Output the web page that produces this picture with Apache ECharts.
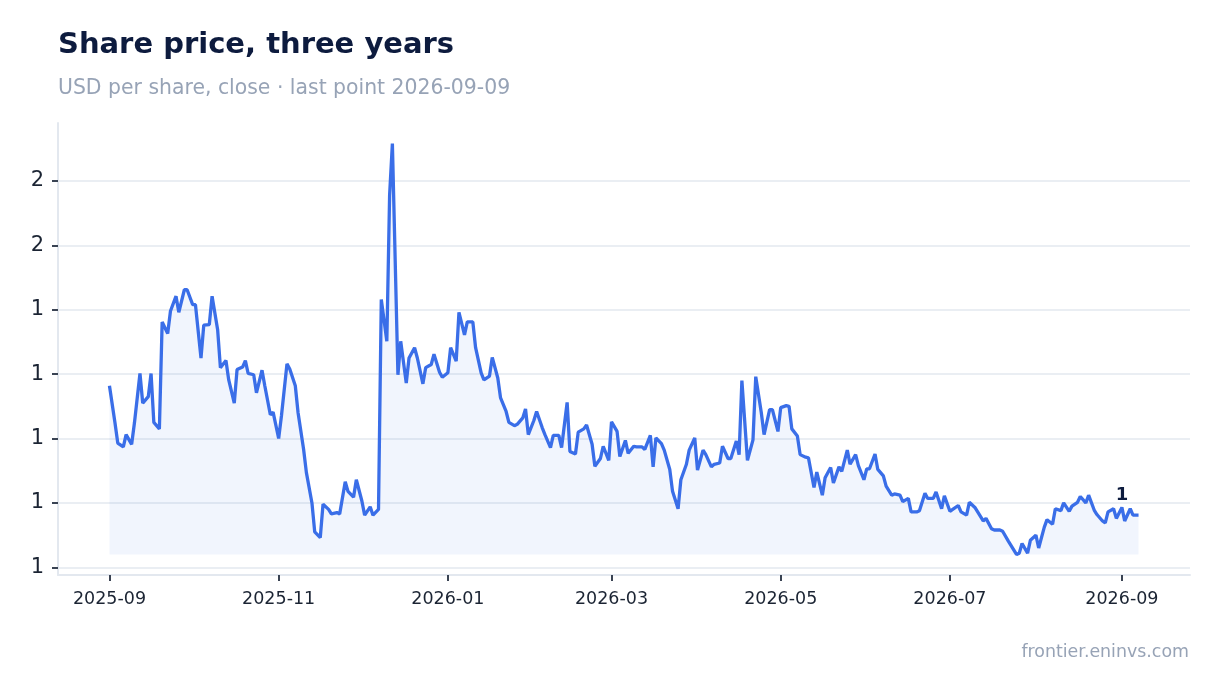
<!DOCTYPE html>
<html>
<head>
<meta charset="utf-8">
<title>Share price, three years</title>
<script src="https://cdn.jsdelivr.net/npm/echarts@6/dist/echarts.min.js"></script>
<style>
  html, body { margin: 0; padding: 0; background: #fff; }
  #chart { width: 1220px; height: 693px; }
</style>
</head>
<body>
<div id="chart"></div>
<script>
// daily closes
var dates = [
    '2025-09-01','2025-09-03','2025-09-04','2025-09-06','2025-09-07','2025-09-09','2025-09-10','2025-09-12','2025-09-13','2025-09-15',
    '2025-09-16','2025-09-17','2025-09-19','2025-09-20','2025-09-22','2025-09-23','2025-09-25','2025-09-26','2025-09-28','2025-09-29',
    '2025-10-01','2025-10-02','2025-10-04','2025-10-05','2025-10-07','2025-10-08','2025-10-10','2025-10-11','2025-10-13','2025-10-14',
    '2025-10-16','2025-10-17','2025-10-19','2025-10-20','2025-10-21','2025-10-23','2025-10-24','2025-10-26','2025-10-27','2025-10-29','2025-10-30',
    '2025-11-01','2025-11-02','2025-11-04','2025-11-05','2025-11-07','2025-11-08','2025-11-10','2025-11-11','2025-11-13','2025-11-14',
    '2025-11-16','2025-11-17','2025-11-19','2025-11-20','2025-11-22','2025-11-23','2025-11-25','2025-11-26','2025-11-28','2025-11-29',
    '2025-12-01','2025-12-02','2025-12-04','2025-12-05','2025-12-07','2025-12-08','2025-12-10','2025-12-11','2025-12-12','2025-12-14',
    '2025-12-15','2025-12-17','2025-12-18','2025-12-20','2025-12-21','2025-12-23','2025-12-24','2025-12-26','2025-12-27','2025-12-29','2025-12-30',
    '2026-01-01','2026-01-02','2026-01-04','2026-01-05','2026-01-07','2026-01-08','2026-01-10','2026-01-11','2026-01-13','2026-01-14',
    '2026-01-16','2026-01-17','2026-01-19','2026-01-20','2026-01-22','2026-01-23','2026-01-25','2026-01-26','2026-01-28','2026-01-29','2026-01-30',
    '2026-02-01','2026-02-02','2026-02-04','2026-02-05','2026-02-07','2026-02-08','2026-02-10','2026-02-11','2026-02-13','2026-02-14',
    '2026-02-16','2026-02-17','2026-02-19','2026-02-20','2026-02-22','2026-02-23','2026-02-25','2026-02-26','2026-02-28',
    '2026-03-01','2026-03-03','2026-03-04','2026-03-06','2026-03-07','2026-03-09','2026-03-10','2026-03-12','2026-03-13','2026-03-15',
    '2026-03-16','2026-03-17','2026-03-19','2026-03-20','2026-03-22','2026-03-23','2026-03-25','2026-03-26','2026-03-28','2026-03-29','2026-03-31',
    '2026-04-01','2026-04-03','2026-04-04','2026-04-06','2026-04-07','2026-04-09','2026-04-10','2026-04-12','2026-04-13','2026-04-15',
    '2026-04-16','2026-04-17','2026-04-19','2026-04-21','2026-04-22','2026-04-24','2026-04-25','2026-04-27','2026-04-28','2026-04-30',
    '2026-05-01','2026-05-03','2026-05-04','2026-05-05','2026-05-07','2026-05-08','2026-05-10','2026-05-11','2026-05-13','2026-05-14',
    '2026-05-16','2026-05-17','2026-05-19','2026-05-20','2026-05-22','2026-05-23','2026-05-25','2026-05-26','2026-05-28','2026-05-29','2026-05-31',
    '2026-06-01','2026-06-02','2026-06-04','2026-06-05','2026-06-07','2026-06-08','2026-06-10','2026-06-11','2026-06-13','2026-06-14',
    '2026-06-16','2026-06-17','2026-06-19','2026-06-20','2026-06-22','2026-06-23','2026-06-25','2026-06-26','2026-06-28','2026-06-29',
    '2026-07-01','2026-07-02','2026-07-04','2026-07-05','2026-07-07','2026-07-08','2026-07-10','2026-07-11','2026-07-13','2026-07-14',
    '2026-07-16','2026-07-17','2026-07-19','2026-07-20','2026-07-22','2026-07-23','2026-07-25','2026-07-26','2026-07-27','2026-07-29','2026-07-30',
    '2026-08-01','2026-08-02','2026-08-04','2026-08-05','2026-08-07','2026-08-08','2026-08-10','2026-08-11','2026-08-13','2026-08-14',
    '2026-08-16','2026-08-17','2026-08-19','2026-08-20','2026-08-22','2026-08-23','2026-08-25','2026-08-26','2026-08-27','2026-08-29','2026-08-30',
    '2026-09-01','2026-09-02','2026-09-04','2026-09-05','2026-09-07'
];

var prices = [
    1.282,1.224,1.193,1.187,1.206,1.191,1.224,1.301,1.255,1.265,
    1.301,1.225,1.215,1.381,1.363,1.398,1.421,1.396,1.431,1.431,
    1.408,1.408,1.325,1.376,1.377,1.421,1.369,1.310,1.321,1.291,
    1.255,1.307,1.311,1.321,1.301,1.299,1.271,1.306,1.282,1.237,1.241,
    1.200,1.235,1.316,1.308,1.282,1.240,1.183,1.147,1.100,1.055,
    1.046,1.098,1.090,1.083,1.085,1.083,1.133,1.118,1.109,1.136,
    1.103,1.081,1.094,1.081,1.090,1.416,1.351,1.578,1.658,1.299,
    1.351,1.286,1.325,1.341,1.325,1.285,1.310,1.315,1.331,1.303,1.295,
    1.302,1.341,1.320,1.396,1.361,1.381,1.381,1.341,1.302,1.291,
    1.297,1.326,1.294,1.263,1.242,1.225,1.220,1.222,1.232,1.246,1.206,
    1.228,1.242,1.217,1.206,1.186,1.205,1.205,1.186,1.256,1.180,
    1.176,1.210,1.215,1.221,1.191,1.157,1.169,1.188,1.166,
    1.226,1.211,1.172,1.197,1.177,1.188,1.187,1.187,1.183,1.205,
    1.156,1.201,1.192,1.182,1.152,1.118,1.091,1.136,1.160,1.182,1.201,
    1.151,1.182,1.175,1.156,1.160,1.162,1.188,1.169,1.169,1.196,
    1.175,1.290,1.166,1.198,1.296,1.240,1.206,1.245,1.245,1.211,
    1.248,1.251,1.250,1.215,1.204,1.175,1.171,1.170,1.124,1.148,
    1.112,1.139,1.155,1.131,1.156,1.149,1.182,1.160,1.175,1.158,1.136,
    1.153,1.153,1.176,1.152,1.142,1.126,1.112,1.114,1.112,1.102,
    1.107,1.086,1.086,1.088,1.115,1.107,1.107,1.117,1.091,1.111,
    1.087,1.090,1.096,1.086,1.081,1.101,1.093,1.086,1.072,1.076,
    1.060,1.058,1.058,1.056,1.041,1.034,1.020,1.022,1.037,1.022,1.042,
    1.050,1.030,1.062,1.074,1.067,1.091,1.088,1.100,1.087,1.095,
    1.101,1.110,1.100,1.112,1.089,1.082,1.072,1.069,1.086,1.091,1.076,
    1.093,1.072,1.091,1.081,1.081
];

var labelDate = '2026-09-01';
var yTicks = [1.0, 1.1, 1.2, 1.3, 1.4, 1.5, 1.6];

(function () {
    var font = 'DejaVu Sans';
    var ink = '#1b2433';
    var navy = '#0d1b3e';
    var grey = '#97a3b6';
    var blue = '#3a6ee8';

    // local midnight, same as echarts does for plain date strings
    function toTime(s) {
        var p = s.split('-').map(Number);
        return new Date(p[0], p[1] - 1, p[2]).getTime();
    }
    function pad5(value) {
        return (value.max - value.min) * 0.05;
    }

    var lowest = Math.min.apply(null, prices);

    var seriesData = dates.map(function (d, i) {
        var item = { value: [toTime(d), prices[i]] };
        if (d === labelDate) {
            item.label = {
                show: true,
                position: 'top',
                distance: 3,
                color: navy,
                fontFamily: font,
                fontSize: 18,
                fontWeight: 'bold',
                formatter: function (p) { return p.value[1].toFixed(0); }
            };
        }
        return item;
    });

    var chart = echarts.init(document.getElementById('chart'), null, { renderer: 'canvas' });

    var option = {
        animation: false,
        backgroundColor: '#ffffff',
        title: [
            {
                text: 'Share price, three years',
                left: 58,
                top: 31,
                padding: 0,
                textStyle: { fontFamily: font, fontSize: 29, fontWeight: 'bold', color: navy }
            },
            {
                text: 'USD per share, close · last point 2026-09-09',
                left: 58,
                top: 79,
                padding: 0,
                textStyle: { fontFamily: font, fontSize: 20.4, fontWeight: 'normal', color: grey }
            },
            {
                text: 'frontier.eninvs.com',
                right: 31,
                top: 644,
                padding: 0,
                textStyle: { fontFamily: font, fontSize: 17.4, fontWeight: 'normal', color: grey }
            }
        ],
        grid: { left: 58, right: 30, top: 123, bottom: 118, containLabel: false },
        xAxis: {
            type: 'time',
            splitNumber: 6,
            min: function (value) { return value.min - pad5(value); },
            max: function (value) { return value.max + pad5(value); },
            axisLine: { show: true, lineStyle: { color: '#e3e8ef', width: 2 } },
            axisTick: {
                show: true,
                length: 6,
                lineStyle: { color: '#3a4353', width: 2 }
            },
            axisLabel: {
                color: ink,
                fontFamily: font,
                fontSize: 17.5,
                margin: 15,
                hideOverlap: false,
                formatter: function (v) {
                    var d = new Date(v);
                    return d.getFullYear() + '-' + String(d.getMonth() + 1).padStart(2, '0');
                }
            },
            splitLine: { show: false }
        },
        yAxis: {
            type: 'value',
            min: function (value) { return value.min - pad5(value); },
            max: function (value) { return value.max + pad5(value); },
            axisLine: { show: true, lineStyle: { color: '#e3e8ef', width: 2 } },
            axisTick: {
                show: true,
                length: 6,
                lineStyle: { color: '#3a4353', width: 2 },
                customValues: yTicks
            },
            axisLabel: {
                color: ink,
                fontFamily: font,
                fontSize: 21,
                margin: 14,
                customValues: yTicks,
                formatter: function (v) { return v.toFixed(0); }
            },
            splitLine: {
                show: true,
                lineStyle: { color: '#e3e8ef', width: 1.5 }
            }
        },
        series: [
            {
                name: 'Close',
                type: 'line',
                data: seriesData,
                showSymbol: true,
                symbol: 'circle',
                symbolSize: 0,
                lineStyle: { color: blue, width: 3.3 },
                itemStyle: { color: blue },
                areaStyle: { color: 'rgba(58, 110, 232, 0.1)', origin: lowest },
                label: { show: false },
                emphasis: { disabled: true },
                silent: true
            }
        ]
    };

    chart.setOption(option);
})();
</script>
</body>
</html>
